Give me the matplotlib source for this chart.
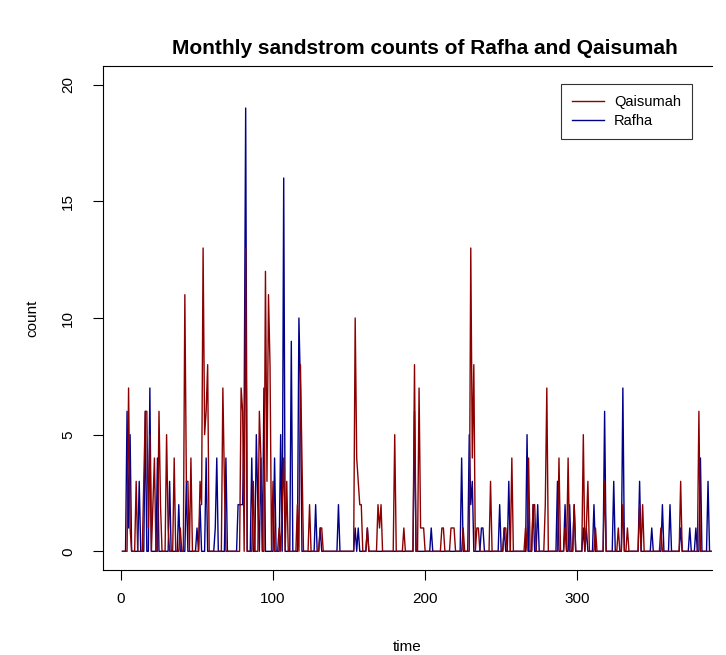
import numpy as np
import matplotlib.pyplot as plt

plt.rcParams['font.family'] = ['Liberation Sans', 'DejaVu Sans']

n_months = 388

# months (1-based) with non-zero counts
qais_t = [5, 6, 10, 15, 16, 17, 18, 19, 21, 22,
          25, 26, 30, 31, 35, 39, 42, 43, 44, 46,
          52, 53, 54, 55, 56, 57, 67, 68, 79, 80,
          82, 87, 91, 92, 95, 96, 97, 98, 100, 104,
          106, 107, 109, 116, 118, 119, 124, 131, 132, 154,
          155, 156, 157, 158, 162, 169, 170, 171, 180, 186,
          193, 196, 197, 198, 199, 211, 212, 217, 218, 219,
          225, 230, 231, 232, 234, 235, 243, 252, 253, 257,
          266, 268, 271, 272, 279, 280, 288, 292, 294, 298,
          304, 306, 307, 312, 318, 327, 330, 333, 341, 343,
          355, 368, 380]
qais_v = [7, 1, 3, 3, 6, 6, 1, 5, 2, 4,
          6, 2, 5, 1, 4, 1, 11, 3, 3, 4,
          3, 2, 13, 5, 6, 8, 7, 3, 7, 6,
          13, 3, 6, 4, 12, 3, 11, 8, 3, 1,
          2, 4, 3, 2, 8, 4, 2, 1, 1, 10,
          4, 3, 2, 2, 1, 2, 1, 2, 5, 1,
          8, 7, 1, 1, 1, 1, 1, 1, 1, 1,
          1, 13, 4, 8, 1, 1, 3, 1, 1, 4,
          1, 4, 2, 2, 2, 7, 4, 1, 4, 2,
          5, 1, 3, 1, 3, 1, 2, 1, 2, 2,
          1, 3, 6]

rafha_t = [4, 5, 6, 12, 16, 19, 24, 32, 38, 43,
           50, 52, 56, 62, 63, 69, 77, 78, 79, 80,
           81, 82, 86, 89, 90, 92, 94, 101, 105, 107,
           112, 117, 118, 128, 131, 143, 154, 156, 162, 193,
           204, 224, 229, 230, 231, 237, 238, 249, 252, 255,
           267, 271, 274, 287, 292, 295, 298, 304, 306, 311,
           318, 324, 330, 341, 349, 356, 361, 368, 374, 378,
           381, 386]
rafha_v = [6, 1, 5, 3, 6, 7, 4, 3, 2, 3,
           1, 2, 4, 1, 4, 4, 2, 2, 2, 2,
           6, 19, 4, 5, 2, 4, 7, 4, 5, 16,
           9, 10, 7, 2, 1, 2, 1, 1, 1, 6,
           1, 4, 5, 2, 3, 1, 1, 2, 1, 3,
           5, 2, 2, 3, 2, 2, 2, 1, 1, 2,
           6, 3, 7, 3, 1, 2, 2, 1, 1, 1,
           4, 3]

time = np.arange(1, n_months + 1)
qais = np.zeros(n_months)
qais[np.array(qais_t) - 1] = qais_v
rafha = np.zeros(n_months)
rafha[np.array(rafha_t) - 1] = rafha_v

fig = plt.figure(figsize=(7.26, 6.55), dpi=100)
ax = fig.add_axes([0.1419, 0.1298, 0.8388, 0.7694])

ax.plot(time, rafha, color='#00008B', lw=1.0, label='Rafha')
ax.plot(time, qais, color='#8B0000', lw=1.0, label='Qaisumah')

ax.set_xlim(-11.8, 388.6)
ax.set_ylim(-0.8, 20.8)
ax.set_xticks([0, 100, 200, 300])
ax.set_yticks([0, 5, 10, 15, 20])
ax.tick_params(direction='out', length=7, width=0.8, labelsize=11)
ax.tick_params(axis='x', pad=9)
ax.tick_params(axis='y', pad=13)
for lab in ax.get_yticklabels():
    lab.set_rotation(90)
    lab.set_va('center')
ax.spines['right'].set_visible(False)
for s in ['left', 'top', 'bottom']:
    ax.spines[s].set_linewidth(0.8)

ax.set_xlabel('time', fontsize=11, labelpad=24)
ax.set_ylabel('count', fontsize=11, labelpad=16)
fig.text(425 / 726, 1 - 48 / 655, 'Monthly sandstrom counts of Rafha and Qaisumah',
         fontsize=15, fontweight='bold', ha='center', va='center')

h, l = ax.get_legend_handles_labels()
leg = ax.legend(h[::-1], l[::-1], loc='upper right',
                bbox_to_anchor=(0.967, 0.964), borderaxespad=0, fontsize=10.5,
                frameon=True, fancybox=False, handlelength=2.2,
                handletextpad=0.7, borderpad=0.75, labelspacing=0.35)
leg.get_frame().set_edgecolor('black')
leg.get_frame().set_linewidth(0.8)

fig.savefig('out.png')
